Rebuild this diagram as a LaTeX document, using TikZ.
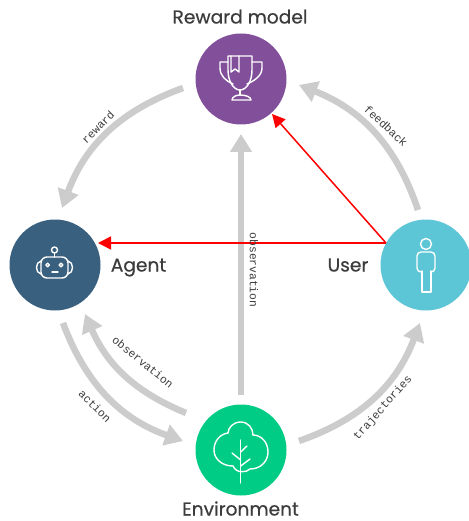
\documentclass[tikz,border=0pt]{standalone}
\usepackage{fontspec}
\setmainfont{Poppins}
\newfontfamily\titlefont[FakeBold=0.5]{Poppins}
\newfontfamily\labelfont{Liberation Mono}
\usetikzlibrary{arrows.meta}
\definecolor{greyarc}{HTML}{CCCCCC}
\definecolor{purp}{HTML}{82509B}
\definecolor{navy}{HTML}{3A607F}
\definecolor{teal}{HTML}{5CC6D6}
\definecolor{leaf}{HTML}{00CC85}
\definecolor{ink}{HTML}{3C3C3C}
\tikzset{
  x=1pt,y=-1pt,
  hub/.style={circle,minimum size=91pt,inner sep=0pt,draw=none},
  flow/.style={draw=greyarc,line width=6.5pt,-{Triangle[length=18pt,width=21pt]}},
  redline/.style={draw=red,line width=1.5pt,-{Triangle[length=13pt,width=13pt]}},
  tag/.style={font=\labelfont\fontsize{11.3}{11.3}\selectfont,text=ink,inner sep=0pt},
  title/.style={font=\titlefont\fontsize{18.6}{20}\selectfont,text=ink,inner sep=0pt,anchor=base},
  icon/.style={draw=white,line width=1.4pt,line join=round,line cap=round,fill=none}
}
\begin{document}
\begin{tikzpicture}
\useasboundingbox (0,0) rectangle (468,521);
\fill[white] (0,0) rectangle (468,521);
% hubs
\node[hub,fill=purp] (reward) at (241,79) {};
\node[hub,fill=navy] (agent) at (55,265) {};
\node[hub,fill=teal] (user) at (426,265) {};
\node[hub,fill=leaf] (env) at (241,450) {};
% titles
\node[title] (trew) at (240,23.5) {Reward model};
\node[title] (tag) at (138.5,271.5) {Agent};
\node[title] (tuser) at (348,271.5) {User};
\node[title] (tenv) at (240.5,515.5) {Environment};
% free ends
\coordinate (a1) at (183,88);   \coordinate (a2) at (62,208);
\coordinate (b1) at (418,210);  \coordinate (b2) at (299,85);
\coordinate (c1) at (63,323);   \coordinate (c2) at (183,441);
\coordinate (d1) at (186,413);  \coordinate (d2) at (85,314);
\coordinate (e1) at (299,441);  \coordinate (e2) at (420,323);
\coordinate (f1) at (241,395);  \coordinate (f2) at (241,134);
\coordinate (rj) at (386,243);  \coordinate (r1) at (98,243);  \coordinate (r2) at (272,114);
% grey arrows
\draw[flow] (a1) to[bend right=25] (a2);
\draw[flow] (b1) to[bend right=25] (b2);
\draw[flow] (c1) to[bend right=25] (c2);
\draw[flow] (d1) to[bend left=22] (d2);
\draw[flow] (e1) to[bend right=25] (e2);
\draw[flow] (f1) -- (f2);
% red arrows
\draw[redline] (rj) -- (r1);
\draw[redline] (rj) -- (r2);
% labels
\node[tag,rotate=45] (l1) at (98,127) {reward};
\node[tag,rotate=-43] (l2) at (386,126) {feedback};
\node[tag,rotate=-45] (l3) at (95,406) {action};
\node[tag,rotate=-39] (l4) at (143,362) {observation};
\node[tag,rotate=48] (l5) at (383,408) {trajectories};
\node[tag,rotate=-90] (l6) at (254,270) {observation};
% trophy
\begin{scope}[icon]
\draw (228,56) -- (252,56) -- (252,70) .. controls (252,82) and (246,90) .. (240,90) .. controls (234,90) and (228,82) .. (228,70) -- cycle;
\draw (228,62) -- (220,62) -- (220,68) .. controls (220,76) and (226,81) .. (233,84);
\draw (252,62) -- (262,62) -- (262,68) .. controls (262,76) and (254,81) .. (247,84);
\draw (231,56) -- (231,72) -- (235,69) -- (239,72) -- (239,56);
\draw (240,90) -- (240,95);
\draw (232,100) .. controls (232,97) and (236,95) .. (240,95) .. controls (246,95) and (251,97) .. (251,100) -- cycle;
\end{scope}
% robot
\begin{scope}[icon]
\draw[rounded corners=6pt] (41,257) rectangle (68,278);
\draw (41,261) .. controls (35,262) and (35,273) .. (41,274);
\draw (68,261) .. controls (74,262) and (74,273) .. (68,274);
\draw (54.5,257) -- (54.5,253);
\draw (54.5,250) circle (3pt);
\draw (47.7,265) circle (1.8pt);
\draw (61,265) circle (1.8pt);
\draw (52,272) -- (58,272);
\end{scope}
% person
\begin{scope}[icon]
\draw (426,244) circle (5.5pt);
\draw[rounded corners=4pt] (422,272) -- (417,272) -- (417,252) -- (435,252) -- (435,272) -- (431,272);
\draw (422,271) -- (422,292) -- (431,292) -- (431,271);
\end{scope}
% tree
\begin{scope}[icon]
\draw (241.7,471.7) .. controls (245,472) and (248,471) .. (250,469) .. controls (261,469) and (268,461) .. (268,452) .. controls (268,442) and (261,435) .. (253,435) .. controls (253,428) and (248,422) .. (240.7,422) .. controls (233,422) and (228,428) .. (228,433) .. controls (220,434) and (214,441) .. (214,450) .. controls (214,459) and (222,466) .. (233,466) .. controls (235,470) and (238,471.7) .. (241.7,471.7);
\draw (240.7,440) -- (240.7,483);
\draw (232,453) -- (240.7,460);
\draw (247,446) -- (240.7,452);
\draw (250,459) -- (240.7,466);
\end{scope}
\end{tikzpicture}
\end{document}
